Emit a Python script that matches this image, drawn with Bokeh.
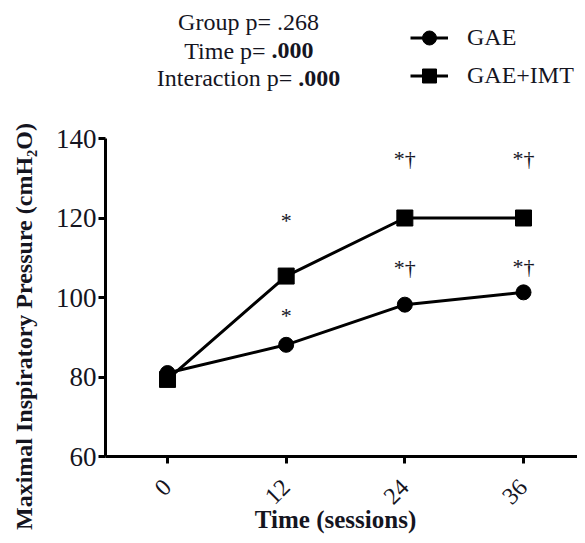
from math import pi
from bokeh.plotting import figure
from bokeh.models import Range1d, FixedTicker, Label, Legend, LegendItem
from bokeh.embed import file_html
from bokeh.resources import INLINE
from bokeh.core.properties import value

# ---- data ----
sessions = [0, 12, 24, 36]
gae = [81.0, 88.1, 98.2, 101.3]
gae_imt = [79.4, 105.4, 120.0, 120.0]
x_ticks = [0, 12, 24, 36]
y_ticks = [60, 80, 100, 120, 140]

sig_x = [12, 12, 24, 24, 36, 36]
sig_y = [119.4, 95.5, 135.0, 107.5, 135.0, 107.8]
sig_text = ["*", "*", "*\u2020", "*\u2020", "*\u2020", "*\u2020"]

stat_names = ["Group p= ", "Time p= ", "Interaction p= "]
stat_values = [".268", ".000", ".000"]
stat_bold = [False, True, True]

FONT = "Liberation Serif"
TXT = "#15151f"

X0, X1 = -16.89, 41.46     # visible x extent (frame = whole canvas)
Y0, Y1 = 40.13, 174.72     # visible y extent
AX_X = -6.27               # where the y axis sits

p = figure(width=577, height=535, output_backend="svg", toolbar_location=None,
           x_range=Range1d(X0, X1), y_range=Range1d(Y0, Y1),
           min_border_left=0, min_border_right=0, min_border_top=0, min_border_bottom=0)
p.outline_line_color = None
p.xgrid.visible = False
p.ygrid.visible = False
p.background_fill_color = "white"

# axes
for ax in (p.xaxis[0], p.yaxis[0]):
    ax.axis_line_width = 3
    ax.axis_line_color = "black"
    ax.major_tick_line_width = 3
    ax.major_tick_line_color = "black"
    ax.major_tick_out = 7
    ax.major_tick_in = 0
    ax.minor_tick_line_color = None
    ax.major_label_text_font = FONT
    ax.major_label_text_color = TXT

p.xaxis.ticker = FixedTicker(ticks=x_ticks)
p.xaxis.fixed_location = 60
p.xaxis.bounds = (AX_X, X1)
p.xaxis.major_label_orientation = pi / 4
p.xaxis.major_label_text_font_size = "24px"
p.xaxis.major_label_standoff = 20

p.yaxis.ticker = FixedTicker(ticks=y_ticks)
p.yaxis.fixed_location = AX_X
p.yaxis.bounds = (60, 140)
p.yaxis.major_label_text_font_size = "27px"
p.yaxis.major_label_standoff = 2

# series
l1 = p.line(sessions, gae, line_width=3, line_color="black")
s1 = p.scatter(sessions, gae, marker="circle", size=15, fill_color="black", line_color="black")
l2 = p.line(sessions, gae_imt, line_width=3, line_color="black")
s2 = p.scatter(sessions, gae_imt, marker="square", size=16, fill_color="black", line_color="black")

# significance marks
p.text(x=sig_x, y=sig_y, text=sig_text, text_font=value(FONT), text_font_size="22px",
       text_align="center", text_baseline="middle", text_color=TXT)

# legend
legend = Legend(items=[LegendItem(label="GAE", renderers=[l1, s1]),
                       LegendItem(label="GAE+IMT", renderers=[l2, s2])],
                location=(410, 442), orientation="vertical")
legend.border_line_color = None
legend.background_fill_alpha = 0
legend.padding = 0
legend.margin = 0
legend.spacing = 3
legend.glyph_width = 38
legend.glyph_height = 35
legend.label_height = 35
legend.label_standoff = 19
legend.label_text_font = FONT
legend.label_text_font_size = "24px"
legend.label_text_color = TXT
p.add_layout(legend)

# statistics header
stat_x = 8.19
stat_y = [169.2, 162.1, 155.1]
offsets = [0, 23.1, 49.8]
for name, val, bold, yy, off in zip(stat_names, stat_values, stat_bold, stat_y, offsets):
    if not bold:
        p.add_layout(Label(x=stat_x, y=yy, text=name + val, text_font=FONT, text_font_size="24px",
                           text_align="center", text_baseline="middle", text_color=TXT))
    else:
        p.add_layout(Label(x=stat_x, y=yy, x_offset=off, text=name, text_font=FONT,
                           text_font_size="24px", text_align="right", text_baseline="middle",
                           text_color=TXT))
        p.add_layout(Label(x=stat_x, y=yy, x_offset=off, text=val, text_font=FONT,
                           text_font_size="24px", text_font_style="bold", text_align="left",
                           text_baseline="middle", text_color=TXT))

# axis titles
p.add_layout(Label(x=-14.5, y=92.7, angle=pi / 2, text="Maximal Inspiratory Pressure (cmH\u2082O)",
                   text_font=FONT, text_font_size="24px", text_font_style="bold",
                   text_align="center", text_baseline="middle", text_color=TXT))
p.add_layout(Label(x=16.99, y=44.2, text="Time (sessions)", text_font=FONT, text_font_size="25px",
                   text_font_style="bold", text_align="center", text_baseline="middle",
                   text_color=TXT))

open("out.html", "w").write(file_html(p, INLINE))
